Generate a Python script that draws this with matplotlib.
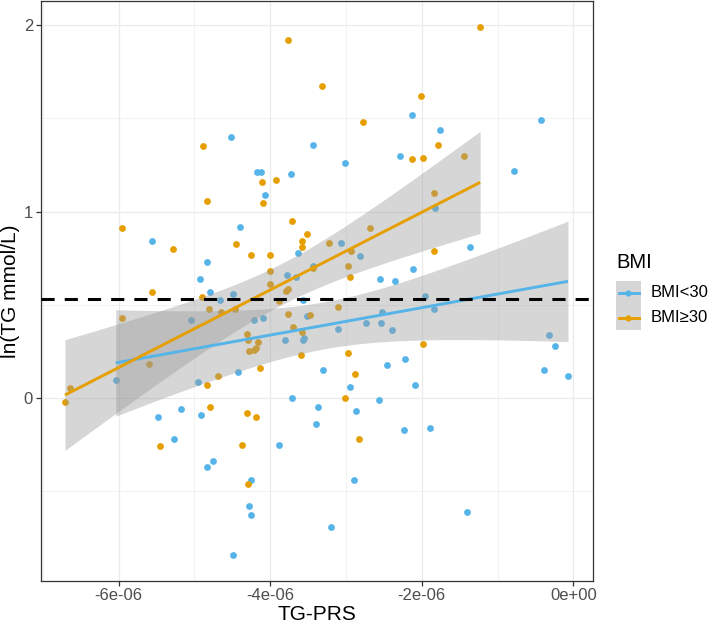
import numpy as np
import matplotlib
matplotlib.use('Agg')
import matplotlib.pyplot as plt
from matplotlib.patches import Rectangle
from matplotlib.lines import Line2D

plt.rcParams['font.family'] = ['Liberation Sans', 'DejaVu Sans']

# TG-PRS values are in units of 1e-6, ln(TG) values
prs_lo = np.array([-4.52, -4.17, -4.12, -3.73, -4.07, -2.13, -0.43, -1.76, -3.43, -3.01,
                   -2.29, -0.78, -5.56, -4.40, -3.63, -4.84, -4.93, -4.80, -4.49, -3.78,
                   -3.66, -4.66, -3.57, -5.04, -4.22, -4.09, -3.52, -3.80, -3.57, -3.55,
                   -4.42, -6.04, -4.96, -3.71, -5.48, -5.18, -4.92, -5.27, -3.89, -4.84,
                   -4.76, -4.25, -4.28, -4.26, -4.49, -2.95, -2.09, -2.57, -3.37, -2.87,
                   -3.40, -2.24, -1.89, -2.89, -1.40, -3.20, -1.83, -1.37, -3.07, -2.82,
                   -3.44, -2.55, -2.35, -2.11, -1.96, -1.84, -2.52, -2.54, -3.11, -2.74,
                   -2.39, -3.30, -2.46, -2.22, -0.32, -0.24, -0.39, -0.07])
tg_lo = np.array([1.40, 1.21, 1.21, 1.20, 1.09, 1.52, 1.49, 1.44, 1.36, 1.26,
                  1.30, 1.22, 0.84, 0.92, 0.78, 0.73, 0.64, 0.57, 0.56, 0.66,
                  0.65, 0.525, 0.525, 0.42, 0.42, 0.43, 0.44, 0.31, 0.31, 0.32,
                  0.14, 0.096, 0.087, 0.00, -0.10, -0.06, -0.09, -0.22, -0.25, -0.37,
                  -0.34, -0.44, -0.58, -0.63, -0.84, 0.06, 0.07, -0.01, -0.05, -0.07,
                  -0.14, -0.17, -0.16, -0.44, -0.61, -0.69, 1.02, 0.81, 0.83, 0.76,
                  0.71, 0.64, 0.63, 0.69, 0.545, 0.48, 0.46, 0.40, 0.37, 0.40,
                  0.366, 0.15, 0.175, 0.21, 0.34, 0.28, 0.15, 0.116])

prs_hi = np.array([-3.77, -4.89, -4.11, -3.92, -4.84, -4.09, -1.23, -3.32, -2.01, -2.78,
                   -1.78, -2.13, -1.98, -1.44, -1.84, -5.96, -5.29, -3.71, -3.52, -3.58,
                   -3.58, -4.45, -4.25, -4.00, -4.00, -5.56, -4.00, -3.79, -3.77, -4.90,
                   -3.88, -4.81, -4.65, -4.47, -5.96, -3.77, -3.48, -4.31, -4.30, -4.16,
                   -4.28, -4.21, -4.19, -3.70, -3.58, -3.59, -5.60, -4.14, -4.69, -4.84,
                   -6.64, -6.71, -4.80, -4.31, -4.19, -5.46, -4.37, -4.29, -3.02, -2.83,
                   -1.84, -2.69, -3.23, -2.93, -3.43, -2.97, -2.95, -3.10, -1.98, -2.98,
                   -2.88])
tg_hi = np.array([1.92, 1.35, 1.16, 1.17, 1.055, 1.045, 1.99, 1.675, 1.62, 1.48,
                  1.36, 1.28, 1.29, 1.30, 1.10, 0.91, 0.80, 0.95, 0.88, 0.84,
                  0.81, 0.825, 0.77, 0.77, 0.68, 0.57, 0.61, 0.575, 0.584, 0.54,
                  0.52, 0.48, 0.46, 0.48, 0.43, 0.45, 0.446, 0.346, 0.314, 0.30,
                  0.25, 0.26, 0.266, 0.38, 0.355, 0.23, 0.18, 0.16, 0.116, 0.07,
                  0.054, -0.02, -0.05, -0.08, -0.10, -0.26, -0.25, -0.46, 0.00, -0.22,
                  0.79, 0.91, 0.83, 0.79, 0.70, 0.71, 0.65, 0.49, 0.29, 0.24,
                  0.13])

groups = ['BMI<30', 'BMI\u226530']
colors = ['#56B4E9', '#E69F00']
ref_level = 0.53
x_ticks = [-6e-6, -4e-6, -2e-6, 0.0]
y_ticks = [0, 1, 2]

band_fill = '#999999'
band_alpha = 0.4
t975 = 1.99


def lm_band(x, y, n_grid=80):
    n = len(x)
    b1, b0 = np.polyfit(x, y, 1)
    resid = y - (b0 + b1 * x)
    s = np.sqrt(np.sum(resid ** 2) / (n - 2))
    xbar = x.mean()
    sxx = np.sum((x - xbar) ** 2)
    grid = np.linspace(x.min(), x.max(), n_grid)
    pred = b0 + b1 * grid
    se = s * np.sqrt(1.0 / n + (grid - xbar) ** 2 / sxx)
    return grid, pred, pred - t975 * se, pred + t975 * se


W, H = 708, 623
fig = plt.figure(figsize=(W / 100, H / 100), dpi=100)
ax = fig.add_axes([40.7 / W, (H - 580.7) / H, 552 / W, 579.7 / H])

series = [(prs_lo, tg_lo), (prs_hi, tg_hi)]

for (px, ty), c in zip(series, colors):
    ax.scatter(px * 1e-6, ty, s=24, color=c, linewidths=0, zorder=3)

for (px, ty), c in zip(series, colors):
    gx, gy, lo, hi = lm_band(px, ty)
    ax.fill_between(gx * 1e-6, lo, hi, color=band_fill, alpha=band_alpha, linewidth=0, zorder=4)
    ax.plot(gx * 1e-6, gy, color=c, lw=2.1, zorder=5, solid_capstyle='butt')

ax.axhline(ref_level, color='black', lw=2.2, dashes=(4.3, 3.3), zorder=6)

ax.set_xlim(-7.03e-6, 0.256e-6)
ax.set_ylim(-0.98, 2.13)
ax.set_xticks(x_ticks)
ax.set_xticklabels([f'{v:.0e}' for v in x_ticks])
ax.set_xticks([-7e-6, -5e-6, -3e-6, -1e-6], minor=True)
ax.set_yticks(y_ticks)
ax.set_yticks([-0.5, 0.5, 1.5], minor=True)

ax.grid(which='major', color='#EBEBEB', lw=0.9, zorder=0)
ax.grid(which='minor', color='#EBEBEB', lw=0.45, zorder=0)
ax.set_axisbelow(True)
for sp in ax.spines.values():
    sp.set_color('#333333')
    sp.set_linewidth(0.9)
ax.tick_params(which='major', length=3.5, width=0.9, color='#333333',
               labelsize=12, labelcolor='#4D4D4D', pad=2)
ax.tick_params(which='minor', length=0)

ax.set_xlabel('TG-PRS', fontsize=15, labelpad=1)
ax.set_ylabel('ln(TG mmol/L)', fontsize=15, labelpad=3)

# legend drawn by hand, ggplot style
fig.text(616 / W, 1 - 268.3 / H, 'BMI', fontsize=14.5, ha='left', va='baseline')
for i, (g, c) in enumerate(zip(groups, colors)):
    yc = 293 + 24.7 * i
    fig.patches.append(Rectangle((616 / W, 1 - (yc + 12.35) / H), 24.7 / W, 24.7 / H,
                                 transform=fig.transFigure, facecolor=band_fill,
                                 alpha=band_alpha, linewidth=0))
    fig.lines.append(Line2D([618.5 / W, 638.5 / W], [1 - yc / H, 1 - yc / H],
                            transform=fig.transFigure, color=c, lw=2.1))
    fig.lines.append(Line2D([628.3 / W], [1 - yc / H], transform=fig.transFigure,
                            color=c, marker='o', markersize=4.5, markeredgewidth=0))
    fig.text(651 / W, 1 - yc / H, g, fontsize=12, ha='left', va='center')

fig.savefig('out.png', dpi=100)
